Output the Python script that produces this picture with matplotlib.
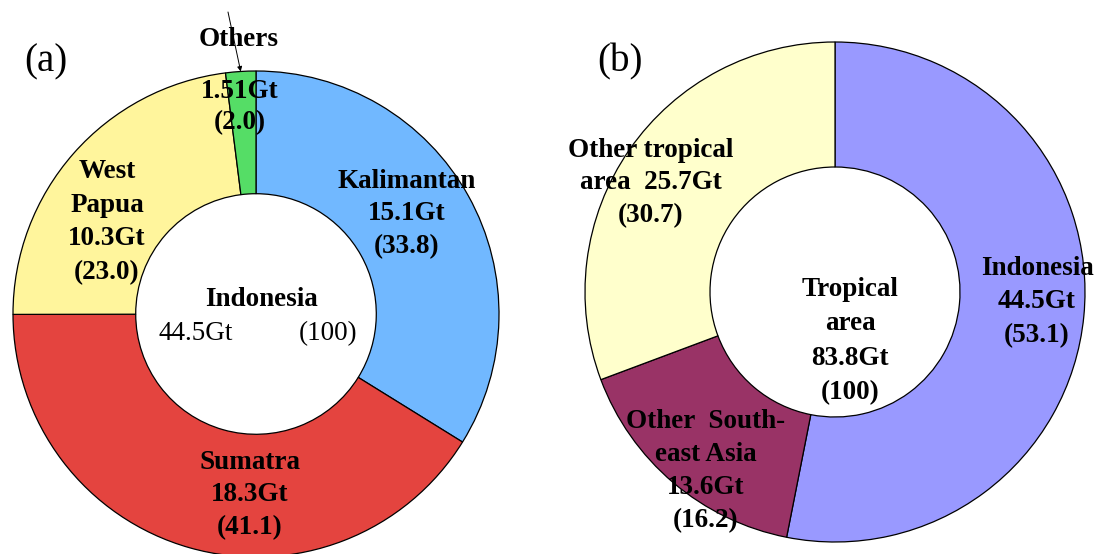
import matplotlib
matplotlib.use("Agg")
import matplotlib.pyplot as plt
import numpy as np

# (a) Indonesia, by island group
a_labels = ["Kalimantan", "Sumatra", "West\nPapua", "Others"]
a_gt = [15.1, 18.3, 10.3, 1.51]
a_pct = [33.8, 41.1, 23.0, 2.0]
a_colors = ["#71B8FF", "#E4443F", "#FFF59C", "#55DD66"]
a_total_name = "Indonesia"
a_total_gt = 44.5

# (b) Tropical area, by region
b_labels = ["Indonesia", "Other  South-\neast Asia", "Other tropical\narea"]
b_gt = [44.5, 13.6, 25.7]
b_pct = [53.1, 16.2, 30.7]
b_colors = ["#9999FF", "#993366", "#FFFFCC"]
b_total_name = "Tropical\narea"
b_total_gt = 83.8

W, H = 1096, 554
fig = plt.figure(figsize=(W / 100, H / 100), dpi=100)
ax = fig.add_axes([0, 0, 1, 1])

SERIF = ["Liberation Serif", "DejaVu Serif"]
FS = 19.5
Y_NUDGE = 2  # glyph-centre correction for va="center"


def py(y_top):
    """Convert a distance from the top edge into the y coordinate."""
    return H - y_top


# donut centres / radii in figure pixels
ca, ra = (256, py(314)), 243
cb, rb = (835, py(292)), 250

ax.pie(a_pct, colors=a_colors, startangle=90, counterclock=False,
       center=ca, radius=ra,
       wedgeprops=dict(width=ra * 0.505, edgecolor="black", linewidth=0.9))
ax.pie(b_pct, colors=b_colors, startangle=90, counterclock=False,
       center=cb, radius=rb,
       wedgeprops=dict(width=rb * 0.5, edgecolor="black", linewidth=0.9))

ax.set_xlim(0, W)
ax.set_ylim(0, H)
ax.set_aspect("equal")
ax.axis("off")


def gt(v):
    return f"{v:g}Gt"


def pc(v):
    return f"({v:.1f})"


def txt(x, y, s, weight="bold", size=FS, ls=1.2, **kw):
    ax.text(x, py(y + Y_NUDGE), s, ha="center", va="center", family=SERIF,
            fontsize=size, fontweight=weight, linespacing=ls, **kw)


# panel tags
txt(46, 60, "(a)", weight="normal", size=28)
txt(620, 60, "(b)", weight="normal", size=28)

# ---- (a) labels
txt(407, 212, f"{a_labels[0]}\n{gt(a_gt[0])}\n{pc(a_pct[0])}", ls=1.4)
txt(250, 493, f"{a_labels[1]}\n{gt(a_gt[1])}\n{pc(a_pct[1])}", ls=1.4)
txt(107, 220, f"{a_labels[2]}\n{gt(a_gt[2])}\n{pc(a_pct[2])}", ls=1.46)
txt(239, 38, a_labels[3])
txt(240, 105, f"{gt(a_gt[3])}\n{pc(a_pct[3])}", ls=1.3)

# arrow pointing at the thin "Others" wedge
mid = np.deg2rad(90 + 360 * a_pct[3] / sum(a_pct) / 2)
tip = (ca[0] + ra * np.cos(mid), ca[1] + ra * np.sin(mid))
ax.annotate("", xy=tip, xytext=(228, py(12)),
            arrowprops=dict(arrowstyle="-|>", color="black", lw=0.7,
                            mutation_scale=7, shrinkA=0, shrinkB=0))

# centre of (a)
txt(261, 297, a_total_name)
txt(196, 332, gt(a_total_gt), weight="normal")
txt(328, 332, "(100)", weight="normal")

# ---- (b) labels
txt(1037, 300, f"{b_labels[0]}\n{gt(b_gt[0])}\n{pc(b_pct[0])}", ls=1.46)
txt(706, 469, f"{b_labels[1]}\n{gt(b_gt[1])}\n{pc(b_pct[1])}", ls=1.42)
first, second = b_labels[2].split("\n")
txt(651, 181, f"{first}\n{second}  {gt(b_gt[2])}\n{pc(b_pct[2])}", ls=1.42)

# centre of (b)
txt(850, 339, f"{b_total_name}\n{gt(b_total_gt)}\n(100)", ls=1.48)

fig.savefig("out.png", dpi=100)
